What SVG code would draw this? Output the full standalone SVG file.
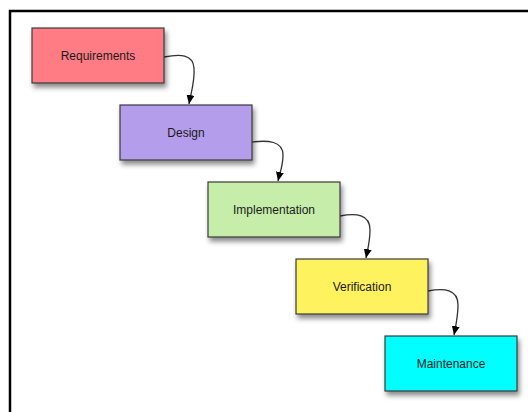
<svg xmlns="http://www.w3.org/2000/svg" width="528" height="412" viewBox="0 0 528 412">
<defs>
<style>
.box{stroke:#3a3a3a;stroke-width:1.2;filter:url(#sh)}
.lbl{font-family:"Liberation Sans",Arial,sans-serif;font-size:12px;fill:#1a1a1a;text-anchor:middle}
.conn{fill:none;stroke:#333;stroke-width:1.3;marker-end:url(#arr)}
.frame{stroke:#000;stroke-width:2.5;fill:none}
</style>
<filter id="sh" x="-20%" y="-30%" width="150%" height="180%">
<feDropShadow dx="2" dy="4" stdDeviation="2.5" flood-color="#000" flood-opacity="0.45"/>
</filter>
<marker id="arr" markerUnits="userSpaceOnUse" markerWidth="9" markerHeight="8" refX="9" refY="4" orient="auto">
<path d="M0,0 L9,4 L0,8 z" fill="#000"/>
</marker>
</defs>
<rect width="528" height="412" fill="#fff"/>
<path class="frame" d="M10,412 L10,11 L528,11"/>
<g id="connectors">
<path class="conn" d="M164,57 C180,54 193,54 194,68 C195,82 191,92 189,104"/>
<path class="conn" d="M252,142 C268,140 283,141 283,155 C283,166 280,172 278,181"/>
<path class="conn" d="M340,216 C356,213 370,214 370,230 C370,241 368,248 366,258"/>
<path class="conn" d="M428,291 C444,288 458,289 458,305 C458,316 456,325 454,335"/>
</g>
<g id="requirements">
<rect class="box" x="32" y="28" width="132" height="55" fill="#ff7b84"/>
<text class="lbl" x="98" y="60">Requirements</text>
</g>
<g id="design">
<rect class="box" x="120" y="105" width="132" height="55" fill="#b49deb"/>
<text class="lbl" x="186" y="137">Design</text>
</g>
<g id="implementation">
<rect class="box" x="208" y="182" width="132" height="55" fill="#c6eeaa"/>
<text class="lbl" x="274" y="214">Implementation</text>
</g>
<g id="verification">
<rect class="box" x="296" y="259" width="132" height="55" fill="#fff25e"/>
<text class="lbl" x="362" y="291">Verification</text>
</g>
<g id="maintenance">
<rect class="box" x="385" y="336" width="132" height="55" fill="#00ffff"/>
<text class="lbl" x="451" y="368">Maintenance</text>
</g>
</svg>
